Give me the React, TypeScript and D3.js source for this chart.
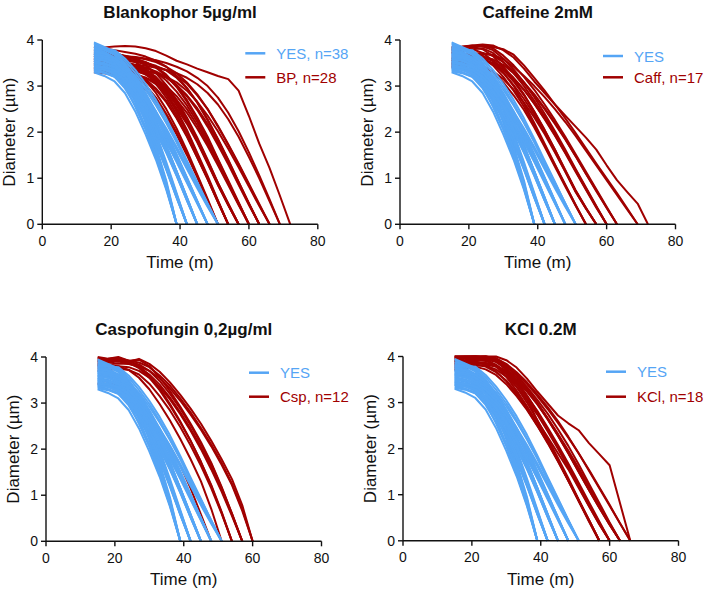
import React from "react";
import * as d3 from "d3";

// ---- Data ----
const TIMES = [15, 18, 21, 24, 27, 30, 33, 36, 39, 42, 45, 48, 51, 54, 57, 60, 63, 66, 69, 72];
const X_TICKS = [0, 20, 40, 60, 80];
const Y_TICKS = [0, 1, 2, 3, 4];

const PANEL_TITLES = ["Blankophor 5µg/ml", "Caffeine 2mM", "Caspofungin 0,2µg/ml", "KCl 0.2M"];
const YES_LABELS = ["YES, n=38", "YES", "YES", "YES"];
const TREAT_LABELS = ["BP, n=28", "Caff, n=17", "Csp, n=12", "KCl, n=18"];

const YES = [
  [3.30, 3.22, 3.10, 2.85, 2.45, 1.95, 1.40, 0.75, 0],
  [3.55, 3.50, 3.38, 3.10, 2.65, 2.10, 1.50, 0.80, 0],
  [3.75, 3.70, 3.60, 3.30, 2.80, 2.20, 1.55, 0.85, 0],
  [3.45, 3.40, 3.30, 3.00, 2.55, 2.05, 1.45, 0.78, 0],
  [3.62, 3.58, 3.45, 3.18, 2.75, 2.25, 1.62, 0.90, 0],
  [3.85, 3.80, 3.68, 3.35, 2.90, 2.35, 1.70, 0.95, 0],
  [3.38, 3.30, 3.20, 2.95, 2.58, 2.10, 1.52, 0.82, 0],
  [3.70, 3.62, 3.50, 3.25, 2.85, 2.30, 1.65, 0.88, 0],
  [3.50, 3.45, 3.35, 3.12, 2.78, 2.35, 1.82, 1.22, 0.60, 0],
  [3.80, 3.75, 3.62, 3.38, 3.00, 2.50, 1.92, 1.28, 0.62, 0],
  [3.35, 3.30, 3.22, 3.00, 2.68, 2.25, 1.75, 1.18, 0.58, 0],
  [3.65, 3.60, 3.52, 3.30, 2.95, 2.48, 1.90, 1.25, 0.62, 0],
  [3.92, 3.82, 3.70, 3.45, 3.05, 2.55, 1.95, 1.30, 0.65, 0],
  [3.58, 3.55, 3.45, 3.20, 2.82, 2.32, 1.78, 1.20, 0.58, 0],
  [3.42, 3.38, 3.28, 3.05, 2.72, 2.30, 1.80, 1.22, 0.60, 0],
  [3.72, 3.68, 3.58, 3.35, 2.98, 2.52, 1.98, 1.35, 0.68, 0],
  [3.48, 3.40, 3.32, 3.10, 2.80, 2.40, 1.88, 1.28, 0.64, 0],
  [3.60, 3.55, 3.48, 3.28, 2.98, 2.60, 2.15, 1.65, 1.12, 0.55, 0],
  [3.40, 3.35, 3.25, 3.08, 2.82, 2.48, 2.05, 1.58, 1.08, 0.52, 0],
  [3.78, 3.72, 3.62, 3.42, 3.10, 2.70, 2.22, 1.70, 1.15, 0.58, 0],
  [3.52, 3.50, 3.42, 3.22, 2.92, 2.52, 2.08, 1.60, 1.10, 0.55, 0],
  [3.68, 3.65, 3.55, 3.35, 3.05, 2.65, 2.20, 1.70, 1.15, 0.58, 0],
  [3.32, 3.28, 3.20, 3.02, 2.75, 2.40, 2.00, 1.55, 1.05, 0.52, 0],
  [3.88, 3.82, 3.72, 3.50, 3.18, 2.75, 2.25, 1.72, 1.15, 0.56, 0],
  [3.55, 3.48, 3.40, 3.20, 2.88, 2.50, 2.06, 1.58, 1.06, 0.52, 0],
  [3.62, 3.60, 3.52, 3.32, 3.02, 2.62, 2.18, 1.68, 1.14, 0.58, 0],
  [3.70, 3.66, 3.58, 3.40, 3.12, 2.78, 2.38, 1.95, 1.48, 1.00, 0.50, 0],
  [3.45, 3.42, 3.35, 3.18, 2.92, 2.60, 2.22, 1.82, 1.38, 0.92, 0.46, 0],
  [3.82, 3.78, 3.68, 3.48, 3.20, 2.85, 2.45, 2.00, 1.52, 1.02, 0.50, 0],
  [3.58, 3.55, 3.46, 3.28, 3.02, 2.70, 2.30, 1.88, 1.42, 0.95, 0.48, 0],
  [3.38, 3.35, 3.28, 3.12, 2.88, 2.55, 2.18, 1.78, 1.35, 0.90, 0.45, 0],
  [3.65, 3.62, 3.55, 3.38, 3.10, 2.75, 2.35, 1.92, 1.45, 0.98, 0.48, 0],
  [3.75, 3.70, 3.60, 3.42, 3.15, 2.82, 2.42, 1.98, 1.50, 1.00, 0.50, 0],
  [3.80, 3.80, 3.78, 3.60, 3.35, 3.05, 2.70, 2.30, 1.85, 1.38, 0.92, 0.45, 0],
  [3.50, 3.48, 3.42, 3.28, 3.05, 2.78, 2.45, 2.08, 1.68, 1.25, 0.82, 0.40, 0],
  [3.68, 3.65, 3.60, 3.45, 3.22, 2.92, 2.58, 2.20, 1.78, 1.32, 0.88, 0.44, 0],
  [3.95, 3.85, 3.75, 3.55, 3.28, 2.98, 2.62, 2.22, 1.80, 1.35, 0.90, 0.45, 0],
  [3.42, 3.40, 3.35, 3.20, 2.98, 2.70, 2.38, 2.02, 1.62, 1.20, 0.78, 0.38, 0],
];

const BP = [
  [3.40, 3.38, 3.35, 3.30, 3.20, 3.02, 2.75, 2.40, 2.00, 1.55, 1.05, 0.52, 0],
  [3.55, 3.52, 3.48, 3.42, 3.30, 3.12, 2.85, 2.50, 2.08, 1.60, 1.08, 0.55, 0],
  [3.30, 3.28, 3.25, 3.20, 3.10, 2.92, 2.68, 2.35, 1.95, 1.50, 1.02, 0.50, 0],
  [3.60, 3.58, 3.55, 3.50, 3.42, 3.28, 3.05, 2.75, 2.38, 1.95, 1.48, 1.00, 0.50, 0],
  [3.45, 3.42, 3.40, 3.36, 3.28, 3.15, 2.95, 2.68, 2.32, 1.92, 1.45, 0.98, 0.48, 0],
  [3.75, 3.72, 3.68, 3.62, 3.52, 3.38, 3.15, 2.85, 2.48, 2.05, 1.55, 1.05, 0.52, 0],
  [3.35, 3.33, 3.30, 3.28, 3.22, 3.10, 2.92, 2.65, 2.30, 1.90, 1.45, 0.98, 0.48, 0],
  [3.65, 3.60, 3.55, 3.50, 3.45, 3.32, 3.12, 2.82, 2.45, 2.02, 1.52, 1.02, 0.50, 0],
  [3.50, 3.48, 3.46, 3.42, 3.38, 3.30, 3.15, 2.92, 2.62, 2.25, 1.82, 1.35, 0.88, 0.42, 0],
  [3.80, 3.78, 3.72, 3.65, 3.58, 3.45, 3.28, 3.02, 2.70, 2.32, 1.88, 1.40, 0.90, 0.45, 0],
  [3.38, 3.36, 3.33, 3.30, 3.26, 3.18, 3.04, 2.82, 2.52, 2.18, 1.78, 1.32, 0.85, 0.42, 0],
  [3.62, 3.60, 3.56, 3.52, 3.46, 3.36, 3.20, 2.96, 2.66, 2.28, 1.85, 1.38, 0.90, 0.44, 0],
  [3.48, 3.45, 3.42, 3.40, 3.35, 3.25, 3.10, 2.88, 2.58, 2.22, 1.80, 1.34, 0.86, 0.42, 0],
  [3.70, 3.68, 3.65, 3.62, 3.58, 3.52, 3.42, 3.25, 3.00, 2.70, 2.32, 1.90, 1.42, 0.95, 0.48, 0],
  [3.42, 3.40, 3.38, 3.35, 3.32, 3.26, 3.16, 3.00, 2.78, 2.50, 2.15, 1.75, 1.32, 0.88, 0.44, 0],
  [3.58, 3.55, 3.52, 3.50, 3.46, 3.40, 3.30, 3.12, 2.88, 2.58, 2.22, 1.80, 1.36, 0.90, 0.45, 0],
  [3.32, 3.30, 3.28, 3.26, 3.22, 3.18, 3.08, 2.92, 2.70, 2.42, 2.08, 1.70, 1.28, 0.85, 0.42, 0],
  [3.78, 3.75, 3.70, 3.66, 3.60, 3.52, 3.40, 3.22, 2.98, 2.66, 2.28, 1.86, 1.40, 0.92, 0.46, 0],
  [3.65, 3.62, 3.60, 3.58, 3.55, 3.50, 3.44, 3.34, 3.18, 2.95, 2.65, 2.28, 1.85, 1.40, 0.92, 0.46, 0],
  [3.45, 3.44, 3.42, 3.40, 3.38, 3.34, 3.28, 3.18, 3.02, 2.80, 2.52, 2.18, 1.78, 1.34, 0.88, 0.44, 0],
  [3.85, 3.82, 3.78, 3.74, 3.70, 3.64, 3.55, 3.42, 3.22, 2.96, 2.64, 2.26, 1.84, 1.38, 0.92, 0.45, 0],
  [3.55, 3.52, 3.50, 3.48, 3.45, 3.40, 3.32, 3.20, 3.02, 2.78, 2.48, 2.12, 1.72, 1.30, 0.86, 0.42, 0],
  [3.60, 3.58, 3.56, 3.55, 3.52, 3.48, 3.42, 3.35, 3.22, 3.05, 2.80, 2.50, 2.14, 1.74, 1.32, 0.88, 0.44, 0],
  [3.72, 3.70, 3.68, 3.65, 3.62, 3.58, 3.52, 3.42, 3.28, 3.08, 2.82, 2.50, 2.12, 1.72, 1.30, 0.86, 0.42, 0],
  [3.40, 3.40, 3.38, 3.36, 3.35, 3.32, 3.28, 3.20, 3.08, 2.90, 2.66, 2.36, 2.02, 1.64, 1.24, 0.82, 0.40, 0],
  [3.70, 3.68, 3.66, 3.65, 3.63, 3.60, 3.56, 3.50, 3.42, 3.32, 3.18, 3.00, 2.75, 2.42, 2.02, 1.56, 1.06, 0.54, 0],
  [3.50, 3.50, 3.48, 3.47, 3.46, 3.44, 3.40, 3.35, 3.28, 3.18, 3.04, 2.85, 2.60, 2.28, 1.90, 1.46, 1.00, 0.50, 0],
  [3.82, 3.84, 3.86, 3.87, 3.86, 3.82, 3.76, 3.66, 3.55, 3.47, 3.38, 3.30, 3.22, 3.15, 2.90, 2.35, 1.75, 1.22, 0.62, 0],
];

const CAFF = [
  [3.60, 3.62, 3.65, 3.60, 3.45, 3.20, 2.90, 2.55, 2.15, 1.72, 1.28, 0.85, 0.42, 0],
  [3.45, 3.48, 3.50, 3.45, 3.30, 3.08, 2.80, 2.48, 2.10, 1.68, 1.25, 0.82, 0.40, 0],
  [3.75, 3.78, 3.80, 3.72, 3.55, 3.30, 3.00, 2.62, 2.20, 1.75, 1.30, 0.86, 0.42, 0],
  [3.55, 3.58, 3.62, 3.60, 3.48, 3.28, 3.02, 2.72, 2.38, 2.00, 1.58, 1.15, 0.72, 0.35, 0],
  [3.80, 3.82, 3.85, 3.80, 3.65, 3.42, 3.14, 2.82, 2.45, 2.05, 1.62, 1.18, 0.74, 0.36, 0],
  [3.40, 3.42, 3.45, 3.42, 3.32, 3.15, 2.92, 2.64, 2.32, 1.96, 1.56, 1.14, 0.70, 0.34, 0],
  [3.65, 3.68, 3.70, 3.66, 3.54, 3.35, 3.10, 2.80, 2.44, 2.04, 1.62, 1.16, 0.72, 0.35, 0],
  [3.70, 3.75, 3.80, 3.82, 3.72, 3.52, 3.28, 3.00, 2.68, 2.34, 1.98, 1.58, 1.18, 0.78, 0.38, 0],
  [3.50, 3.55, 3.60, 3.62, 3.55, 3.40, 3.18, 2.92, 2.62, 2.28, 1.92, 1.54, 1.14, 0.75, 0.36, 0],
  [3.85, 3.86, 3.88, 3.86, 3.78, 3.60, 3.36, 3.08, 2.76, 2.40, 2.02, 1.62, 1.20, 0.80, 0.40, 0],
  [3.42, 3.48, 3.55, 3.58, 3.50, 3.36, 3.16, 2.92, 2.62, 2.30, 1.94, 1.56, 1.16, 0.76, 0.38, 0],
  [3.78, 3.82, 3.86, 3.88, 3.82, 3.66, 3.45, 3.20, 2.92, 2.60, 2.26, 1.90, 1.52, 1.14, 0.76, 0.38, 0],
  [3.60, 3.64, 3.70, 3.72, 3.66, 3.52, 3.32, 3.08, 2.82, 2.52, 2.20, 1.85, 1.48, 1.10, 0.74, 0.36, 0],
  [3.48, 3.52, 3.58, 3.62, 3.58, 3.46, 3.28, 3.06, 2.80, 2.50, 2.18, 1.84, 1.48, 1.10, 0.72, 0.36, 0],
  [3.72, 3.78, 3.84, 3.88, 3.85, 3.80, 3.68, 3.45, 3.18, 2.90, 2.60, 2.30, 1.98, 1.65, 1.32, 1.00, 0.68, 0.34, 0],
  [3.55, 3.60, 3.66, 3.70, 3.68, 3.58, 3.42, 3.22, 3.00, 2.76, 2.50, 2.22, 1.92, 1.60, 1.28, 0.96, 0.64, 0.32, 0],
  [3.82, 3.85, 3.88, 3.90, 3.88, 3.78, 3.62, 3.38, 3.10, 2.85, 2.60, 2.36, 2.12, 1.88, 1.62, 1.28, 0.96, 0.70, 0.45, 0],
];

const CSP = [
  [3.42, 3.42, 3.40, 3.30, 3.08, 2.78, 2.42, 2.05, 1.65, 1.15, 0.58, 0],
  [3.80, 3.82, 3.80, 3.72, 3.55, 3.30, 2.98, 2.62, 2.22, 1.78, 1.30, 0.70, 0],
  [3.95, 3.96, 3.98, 3.92, 3.80, 3.60, 3.32, 2.98, 2.60, 2.18, 1.72, 1.20, 0.62, 0],
  [3.70, 3.72, 3.75, 3.72, 3.62, 3.42, 3.15, 2.84, 2.48, 2.08, 1.64, 1.15, 0.60, 0],
  [3.88, 3.90, 3.92, 3.88, 3.76, 3.55, 3.28, 2.95, 2.58, 2.18, 1.72, 1.22, 0.64, 0],
  [4.00, 3.96, 4.00, 3.92, 3.94, 3.80, 3.56, 3.26, 2.92, 2.55, 2.15, 1.70, 1.18, 0.60, 0],
  [3.85, 3.88, 3.90, 3.86, 3.78, 3.62, 3.40, 3.12, 2.80, 2.44, 2.05, 1.62, 1.12, 0.58, 0],
  [3.75, 3.78, 3.80, 3.78, 3.70, 3.55, 3.35, 3.08, 2.76, 2.40, 2.00, 1.56, 1.08, 0.55, 0],
  [3.92, 3.94, 3.95, 3.90, 3.84, 3.70, 3.48, 3.20, 2.88, 2.52, 2.12, 1.68, 1.16, 0.60, 0],
  [3.98, 3.95, 3.98, 3.90, 3.96, 3.85, 3.68, 3.45, 3.18, 2.88, 2.55, 2.18, 1.78, 1.35, 0.78, 0],
  [3.90, 3.92, 3.94, 3.92, 3.88, 3.78, 3.60, 3.38, 3.10, 2.80, 2.46, 2.10, 1.70, 1.25, 0.70, 0],
  [3.82, 3.84, 3.86, 3.85, 3.80, 3.70, 3.54, 3.32, 3.05, 2.75, 2.42, 2.06, 1.66, 1.22, 0.66, 0],
];

const KCL = [
  [3.85, 3.88, 3.90, 3.82, 3.68, 3.46, 3.18, 2.86, 2.50, 2.12, 1.72, 1.30, 0.88, 0.45, 0],
  [3.95, 3.98, 4.00, 3.95, 3.80, 3.56, 3.26, 2.92, 2.55, 2.16, 1.75, 1.32, 0.88, 0.44, 0],
  [3.70, 3.74, 3.78, 3.72, 3.60, 3.40, 3.14, 2.84, 2.50, 2.14, 1.74, 1.32, 0.88, 0.44, 0],
  [3.90, 3.92, 3.95, 3.92, 3.82, 3.62, 3.34, 3.00, 2.62, 2.22, 1.80, 1.36, 0.90, 0.45, 0],
  [3.78, 3.80, 3.82, 3.78, 3.66, 3.48, 3.22, 2.90, 2.54, 2.15, 1.74, 1.30, 0.86, 0.42, 0],
  [4.00, 4.00, 4.00, 4.00, 3.92, 3.74, 3.48, 3.16, 2.80, 2.42, 2.02, 1.60, 1.18, 0.76, 0.36, 0],
  [3.88, 3.90, 3.92, 3.90, 3.82, 3.66, 3.42, 3.12, 2.78, 2.42, 2.04, 1.64, 1.22, 0.80, 0.40, 0],
  [3.75, 3.78, 3.82, 3.80, 3.72, 3.56, 3.34, 3.06, 2.74, 2.38, 2.00, 1.60, 1.18, 0.78, 0.38, 0],
  [3.98, 4.00, 4.00, 3.98, 3.90, 3.70, 3.44, 3.14, 2.82, 2.46, 2.08, 1.68, 1.26, 0.84, 0.42, 0],
  [3.82, 3.85, 3.88, 3.86, 3.78, 3.62, 3.40, 3.10, 2.60, 2.25, 1.90, 1.55, 1.15, 0.75, 0.36, 0],
  [4.00, 4.00, 4.00, 4.00, 3.96, 3.82, 3.60, 3.32, 3.00, 2.66, 2.30, 1.92, 1.52, 1.12, 0.74, 0.36, 0],
  [3.90, 3.92, 3.95, 3.94, 3.88, 3.74, 3.54, 3.28, 2.98, 2.64, 2.28, 1.90, 1.50, 1.10, 0.72, 0.35, 0],
  [3.80, 3.82, 3.86, 3.86, 3.80, 3.68, 3.50, 3.26, 2.98, 2.66, 2.32, 1.96, 1.58, 1.18, 0.78, 0.38, 0],
  [3.96, 3.98, 4.00, 3.98, 3.92, 3.78, 3.58, 3.34, 3.06, 2.76, 2.42, 2.06, 1.66, 1.24, 0.82, 0.40, 0],
  [3.72, 3.76, 3.80, 3.82, 3.78, 3.66, 3.48, 3.24, 2.96, 2.64, 2.28, 1.90, 1.50, 1.10, 0.72, 0.35, 0],
  [4.00, 4.00, 4.00, 4.00, 4.00, 3.92, 3.76, 3.52, 3.24, 2.98, 2.72, 2.55, 2.40, 2.12, 1.88, 1.64, 0.82, 0],
  [3.92, 3.95, 3.98, 4.00, 3.96, 3.84, 3.66, 3.44, 3.18, 2.90, 2.60, 2.26, 1.90, 1.52, 1.14, 0.76, 0.38, 0],
  [3.85, 3.88, 3.92, 3.94, 3.90, 3.80, 3.62, 3.40, 3.14, 2.86, 2.56, 2.24, 1.90, 1.54, 1.16, 0.78, 0.38, 0],
];

const TREATMENTS = [BP, CAFF, CSP, KCL];

// ---- Layout / style ----
const W = 707;
const H = 593;
const PLOT_W = 275.5;
const PLOT_H = 184.3;
const PANELS = [
  { x0: 42.3, top: 40, legendY: [13.3, 37.3] },
  { x0: 400, top: 40, legendY: [16, 37.3] },
  { x0: 46, top: 357, legendY: [15.7, 39.7] },
  { x0: 403, top: 356.5, legendY: [15.2, 40.2] },
];
const BLUE = "#55A5F5";
const RED = "#A00000";
const FONT = "'Liberation Sans', Arial, Helvetica, sans-serif";
const AXIS_COLOR = "#111";

function Panel({ idx }: { idx: number }) {
  const p = PANELS[idx];
  const x = d3.scaleLinear().domain([0, 80]).range([p.x0, p.x0 + PLOT_W]);
  const y = d3.scaleLinear().domain([0, 4]).range([p.top + PLOT_H, p.top]);
  const line = d3
    .line<number>()
    .x((_, i) => x(TIMES[i]))
    .y((d) => y(d));
  const bottom = p.top + PLOT_H;
  const cx = p.x0 + PLOT_W / 2;
  const cy = p.top + PLOT_H / 2;
  const treat = TREATMENTS[idx];
  return (
    <g>
      {treat.map((s, i) => (
        <path key={"r" + i} d={line(s) || ""} fill="none" stroke={RED} strokeWidth={2} strokeLinejoin="round" />
      ))}
      {YES.map((s, i) => (
        <path key={"b" + i} d={line(s) || ""} fill="none" stroke={BLUE} strokeWidth={2} strokeLinejoin="round" />
      ))}
      {/* axes */}
      <line x1={p.x0} x2={p.x0 + PLOT_W} y1={bottom} y2={bottom} stroke={AXIS_COLOR} strokeWidth={1.4} />
      <line x1={p.x0} x2={p.x0} y1={p.top} y2={bottom} stroke={AXIS_COLOR} strokeWidth={1.4} />
      {X_TICKS.map((t) => (
        <g key={"xt" + t}>
          <line x1={x(t)} x2={x(t)} y1={bottom} y2={bottom + 5} stroke={AXIS_COLOR} strokeWidth={1.4} />
          <text x={x(t)} y={bottom + 21.4} textAnchor="middle" fontSize={14} fontFamily={FONT} fill="#111">
            {t}
          </text>
        </g>
      ))}
      {Y_TICKS.map((t) => (
        <g key={"yt" + t}>
          <line x1={p.x0 - 5} x2={p.x0} y1={y(t)} y2={y(t)} stroke={AXIS_COLOR} strokeWidth={1.4} />
          <text x={p.x0 - 8} y={y(t) + 5} textAnchor="end" fontSize={14} fontFamily={FONT} fill="#111">
            {t}
          </text>
        </g>
      ))}
      {/* titles */}
      <text x={cx} y={p.top - 22} textAnchor="middle" fontSize={17} fontWeight="bold" fontFamily={FONT} fill="#111">
        {PANEL_TITLES[idx]}
      </text>
      <text x={cx} y={bottom + 44} textAnchor="middle" fontSize={17} fontFamily={FONT} fill="#111">
        Time (m)
      </text>
      <text
        transform={`translate(${p.x0 - 27},${cy}) rotate(-90)`}
        textAnchor="middle"
        fontSize={17}
        fontFamily={FONT}
        fill="#111"
      >
        Diameter (µm)
      </text>
      {/* legend */}
      {[YES_LABELS[idx], TREAT_LABELS[idx]].map((lab, i) => {
        const ly = p.top + p.legendY[i];
        const col = i === 0 ? BLUE : RED;
        return (
          <g key={"lg" + i}>
            <line x1={p.x0 + 203} x2={p.x0 + 223} y1={ly} y2={ly} stroke={col} strokeWidth={2.5} />
            <text x={p.x0 + 234} y={ly + 5.5} fontSize={15} fontFamily={FONT} fill={col}>
              {lab}
            </text>
          </g>
        );
      })}
    </g>
  );
}

export default function App() {
  return (
    <svg
      width={W}
      height={H}
      viewBox={`0 0 ${W} ${H}`}
      style={{ position: "absolute", left: 0, top: 0, background: "#fff" }}
    >
      <rect x={0} y={0} width={W} height={H} fill="#fff" />
      {PANELS.map((_, i) => (
        <Panel key={i} idx={i} />
      ))}
    </svg>
  );
}
